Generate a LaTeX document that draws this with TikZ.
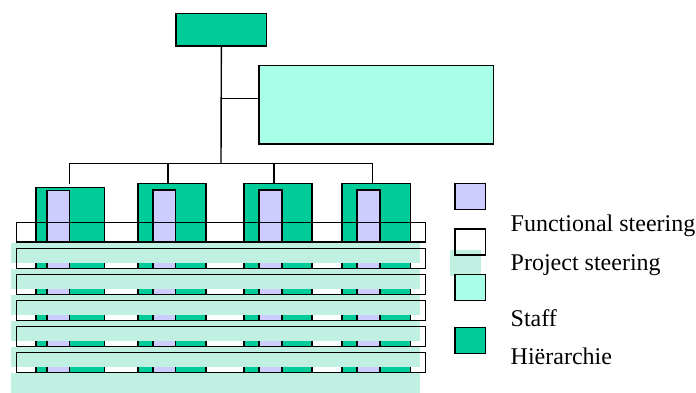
\documentclass[tikz,border=0pt]{standalone}
\usepackage{fontspec}
\setmainfont{Liberation Serif}
\definecolor{hier}{HTML}{00CC99}
\definecolor{func}{HTML}{CCCCFF}
\definecolor{staff}{HTML}{A6FFE6}
\definecolor{staffband}{HTML}{BFF0E2}
\begin{document}
\begin{tikzpicture}[x=1pt,y=-1pt,line width=1.4pt,
  box/.style={draw=black,inner sep=0pt,outer sep=0pt,anchor=north west},
  sz/.style 2 args={minimum width=#1,minimum height=#2},
  hierbox/.style={box,fill=hier},
  funcbox/.style={box,fill=func},
  staffbox/.style={box,fill=staff},
  projbox/.style={box},
  legtext/.style={anchor=base west,inner sep=0pt,font=\fontsize{24}{28}\selectfont}]
\useasboundingbox (0,0) rectangle (696,392);

% management and staff
\node[hierbox,sz={90.7}{32.7}] (top) at (176,13.3) {};
\node[staffbox,sz={234.3}{78.3}] (staff) at (259,65.7) {};

% line units (hierarchy) with functional steering inside
\node[hierbox,sz={68.7}{54.4}] (h1) at (36,187.3) {};
\node[funcbox,sz={22.7}{51}] (f1) at (47,190.7) {};
\node[hierbox,sz={68}{58.4}] (h2) at (138,183.3) {};
\node[funcbox,sz={22.7}{51.7}] (f2) at (153,190) {};
\node[hierbox,sz={68}{58.4}] (h3) at (244,183.3) {};
\node[funcbox,sz={23}{51.7}] (f3) at (259,190) {};
\node[hierbox,sz={68.3}{58.4}] (h4) at (342,183.3) {};
\node[funcbox,sz={23}{51.7}] (f4) at (357,190) {};

% connectors
\coordinate (j) at (221,163.3);
\coordinate (s) at (221,98.3);
\coordinate (b1) at (69.7,163.3);
\coordinate (b2) at (168,163.3);
\coordinate (b3) at (274,163.3);
\coordinate (b4) at (372.3,163.3);
\draw (top.south) -- (j);
\draw (s) -- (s -| staff.west);
\draw (b1) -- (b4);
\draw[shorten >=3.3pt] (b1) -- (b1 |- h1.north);
\draw (b2) -- (b2 |- h2.north);
\draw (b3) -- (b3 |- h3.north);
\draw (b4) -- (b4 |- h4.north);

% first project row
\node[projbox,sz={409}{19.7}] (p0) at (16.7,222.3) {};

% repeated project rows: unit strips, staff band, project outline
\foreach \i in {0,...,4}{
  \foreach \a/\b/\c/\d in {36/104.7/47/69.7,138/206/153/175.7,244/312/259/282,342/410.3/357/380}{
    \draw[fill=hier] (\a,248.7+26*\i) rectangle (\b,268.7+26*\i);
    \draw[fill=func] (\c,248.7+26*\i) rectangle (\d,268.7+26*\i);
  }
}
\foreach \i in {0,...,5}{
  \fill[staffband] (11,243+26*\i) rectangle (420,262.7+26*\i);
}
\fill[staffband] (11,373) rectangle (420,393);
\foreach \i in {1,...,5}{
  \node[projbox,sz={409}{20}] (p\i) at (16.7,222.7+26*\i) {};
}

% legend
\node[funcbox,sz={30.7}{26}] (lf) at (455,183.3) {};
\fill[staffband] (450,250) rectangle (480.7,276);
\node[projbox,sz={30.7}{26}] (lp) at (455,229) {};
\node[staffbox,sz={30.7}{26.4}] (ls) at (455,274.3) {};
\node[hierbox,sz={30.7}{25.6}] (lh) at (455,327.7) {};
\node[legtext] (tf) at (510,231.7) {Functional steering};
\node[legtext] (tp) at (510,270) {Project steering};
\node[legtext] (ts) at (510,326) {Staff};
\node[legtext] (th) at (510,364.5) {Hiërarchie};
\end{tikzpicture}
\end{document}
